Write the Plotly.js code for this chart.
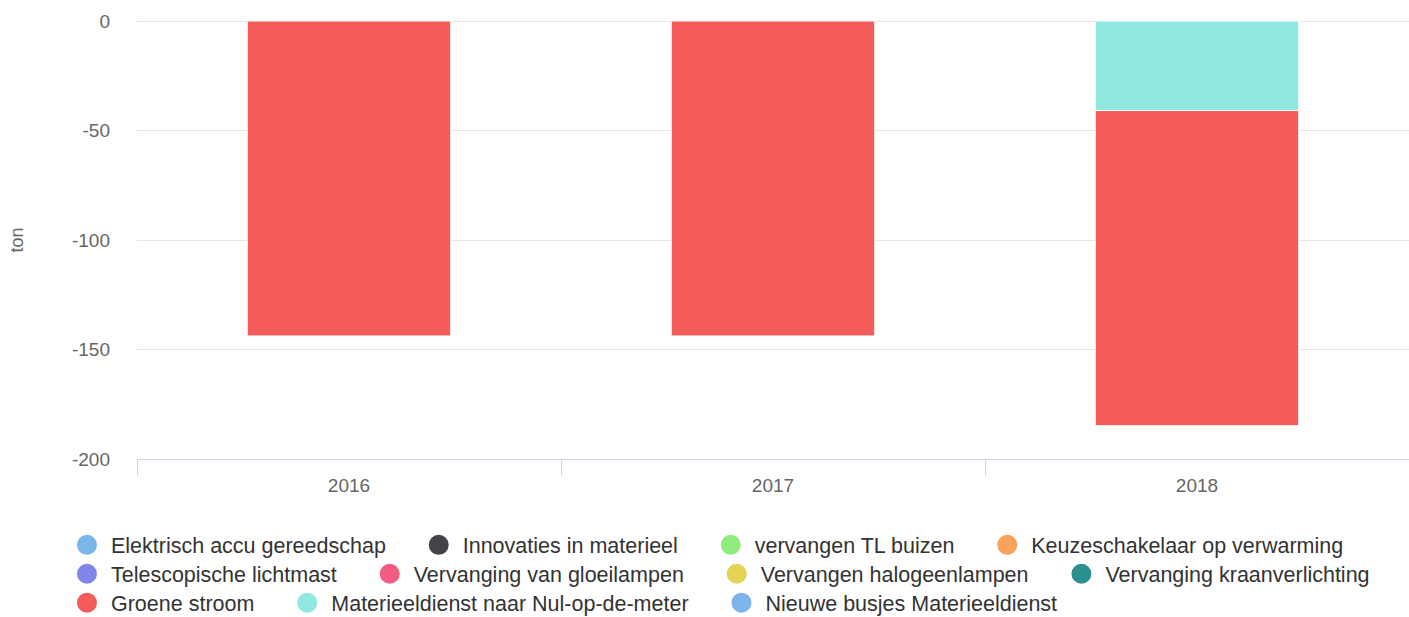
<!DOCTYPE html>
<html>
<head>
<meta charset="utf-8">
<script src="https://cdn.plot.ly/plotly-3.0.1.min.js"></script>
<style>html,body{margin:0;padding:0;background:#fff;}#chart{width:1409px;height:617px;}</style>
</head>
<body>
<div id="chart"></div>
<script>
// ---- data ----
const years = ['2016', '2017', '2018'];

const seriesNames = [
  'Elektrisch accu gereedschap',
  'Innovaties in materieel',
  'vervangen TL buizen',
  'Keuzeschakelaar op verwarming',
  'Telescopische lichtmast',
  'Vervanging van gloeilampen',
  'Vervangen halogeenlampen',
  'Vervanging kraanverlichting',
  'Groene stroom',
  'Materieeldienst naar Nul-op-de-meter',
  'Nieuwe busjes Materieeldienst'
];

const seriesColors = [
  '#7cb5ec', '#434348', '#90ed7d', '#f7a35c', '#8085e9', '#f15c80',
  '#e4d354', '#2b908f', '#f45b5b', '#91e8e1', '#7cb5ec'
];

// values in ton per year (2016, 2017, 2018)
const elektrischAccu      = [null, null, null];
const innovatiesMaterieel = [null, null, null];
const vervangenTL         = [null, null, null];
const keuzeschakelaar     = [null, null, null];
const telescopisch        = [null, null, null];
const gloeilampen         = [null, null, null];
const halogeenlampen      = [null, null, null];
const kraanverlichting    = [null, null, null];
const groeneStroom        = [-143.8, -143.8, -143.9];
const nulOpDeMeter        = [null, null, -40.9];
const nieuweBusjes        = [null, null, null];

const seriesValues = [
  elektrischAccu, innovatiesMaterieel, vervangenTL, keuzeschakelaar,
  telescopisch, gloeilampen, halogeenlampen, kraanverlichting,
  groeneStroom, nulOpDeMeter, nieuweBusjes
];

// y-axis ticks
const yTickValues = [0, -50, -100, -150, -200];
const yTickLabels = ['0', '-50', '-100', '-150', '-200'];

// legend rows
const legendRows = [[0, 1, 2, 3], [4, 5, 6, 7], [8, 9, 10]];

// ---- build traces ----
const traces = [];
// bars: later series sit closest to zero (reverse order for relative stacking)
for (let i = seriesNames.length - 1; i >= 0; i--) {
  traces.push({
    type: 'bar',
    name: seriesNames[i],
    x: years,
    y: seriesValues[i],
    marker: { color: seriesColors[i], line: { color: '#ffffff', width: 1 } },
    showlegend: false,
    hoverinfo: 'x+y+name'
  });
}
// legend entries (circles)
const pad = '\u00a0\u00a0\u00a0\u00a0';
legendRows.forEach((row, r) => {
  row.forEach((i, k) => {
    traces.push({
      type: 'scatter',
      mode: 'markers',
      name: seriesNames[i] + (k < row.length - 1 ? pad : ''),
      x: [years[0]],
      y: [null],
      marker: { color: seriesColors[i], size: 16, symbol: 'circle', line: { color: seriesColors[i], width: 4 } },
      legend: r === 0 ? 'legend' : 'legend' + (r + 1),
      hoverinfo: 'skip'
    });
  });
});

const legendBase = {
  orientation: 'h',
  xanchor: 'left',
  yanchor: 'middle',
  x: -0.0582,
  itemwidth: 38,
  font: { family: '"Liberation Sans", Arial, Helvetica, sans-serif', size: 21.5, color: '#333333' },
  bgcolor: 'rgba(0,0,0,0)',
  borderwidth: 0,
  itemclick: false,
  itemdoubleclick: false
};

const layout = {
  width: 1409,
  height: 617,
  margin: { l: 137, r: 0, t: 21, b: 158, autoexpand: false },
  paper_bgcolor: '#ffffff',
  plot_bgcolor: '#ffffff',
  barmode: 'relative',
  bargap: 0.52,
  font: { family: '"Liberation Sans", Arial, Helvetica, sans-serif', color: '#666666' },
  xaxis: {
    type: 'category',
    tickson: 'boundaries',
    ticks: 'outside',
    ticklen: 16,
    tickcolor: '#ccd6eb',
    tickwidth: 1,
    showline: true,
    linecolor: '#ccd6eb',
    linewidth: 1,
    showgrid: false,
    zeroline: false,
    ticklabelstandoff: 9,
    tickfont: { size: 19, color: '#666666' },
    fixedrange: true
  },
  yaxis: {
    range: [-200, 0],
    tickmode: 'array',
    tickvals: yTickValues,
    ticktext: yTickLabels,
    showgrid: true,
    gridcolor: '#e6e6e6',
    gridwidth: 1,
    zeroline: true,
    zerolinecolor: '#e6e6e6',
    zerolinewidth: 1,
    showline: false,
    ticks: '',
    ticklabelstandoff: 26,
    tickfont: { size: 19, color: '#666666' },
    title: { text: 'ton', font: { size: 18, color: '#666666' }, standoff: 43 },
    fixedrange: true
  },
  showlegend: true,
  legend: Object.assign({}, legendBase, { y: -0.196 }),
  legend2: Object.assign({}, legendBase, { y: -0.262 }),
  legend3: Object.assign({}, legendBase, { y: -0.328 })
};

Plotly.newPlot('chart', traces, layout, { displayModeBar: false });
</script>
</body>
</html>
